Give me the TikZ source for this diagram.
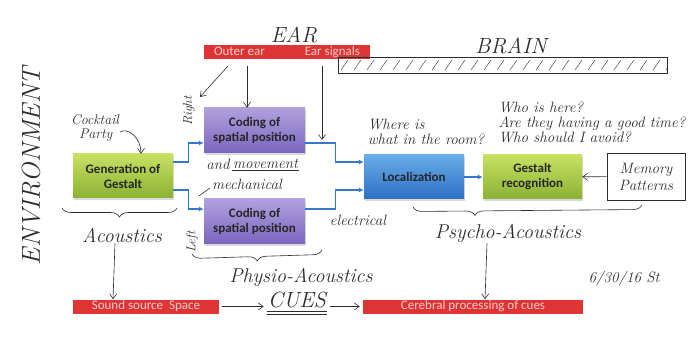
\documentclass[tikz,border=0pt]{standalone}
\usepackage{fontspec}
\newfontfamily\calibri{Carlito}
\usetikzlibrary{arrows.meta,decorations.pathreplacing,shadows,positioning}
\definecolor{rouge}{RGB}{222,52,52}
\definecolor{rose}{RGB}{250,205,205}
\definecolor{bleu}{RGB}{52,120,205}
\definecolor{vhaut}{RGB}{200,224,98}
\definecolor{vbas}{RGB}{138,178,52}
\definecolor{phaut}{RGB}{176,160,222}
\definecolor{pbas}{RGB}{122,102,190}
\definecolor{bhaut}{RGB}{104,172,232}
\definecolor{bbas}{RGB}{44,112,196}
\definecolor{mine}{RGB}{45,45,45}

\begin{document}
\begin{tikzpicture}[x=1pt,y=-1pt,line width=.45pt,
  boite/.style={rectangle,minimum width=100pt,minimum height=44pt,align=center,
    inner sep=2pt,font=\calibri\bfseries\fontsize{13}{15}\selectfont,text=black!85,
    drop shadow={opacity=.3,shadow xshift=1.2pt,shadow yshift=-1.6pt}},
  vert/.style={boite,top color=vhaut,bottom color=vbas},
  codage/.style={boite,top color=phaut,bottom color=pbas,minimum width=101pt,minimum height=45pt},
  azur/.style={boite,top color=bhaut,bottom color=bbas},
  barre/.style={rectangle,fill=rouge,text=rose,minimum height=14pt,inner sep=0pt,
    font=\calibri\fontsize{13}{13}\selectfont},
  main/.style={text=mine,inner sep=1pt,font=\itshape\fontsize{15}{15}\selectfont},
  grand/.style={main,font=\itshape\fontsize{20}{20}\selectfont},
  crayon/.style={draw=mine,line width=.6pt},
  fleche/.style={crayon,-{Straight Barb[length=5pt,width=7pt]}},
  lien/.style={draw=bleu,line width=1.4pt,-{Latex[length=5pt,width=5pt]}},
  accolade/.style={crayon,decorate,decoration={brace,mirror,amplitude=9pt}}]
\useasboundingbox (0,0) rectangle (700,344);

% Les titres des trois domaines.
\node[main,font=\itshape\fontsize{22}{22}\selectfont] (ear) at (294,35) {EAR};
\node[main,font=\itshape\fontsize{22}{22}\selectfont] (brain) at (511,46) {BRAIN};
\node[main,font=\itshape\fontsize{26}{26}\selectfont,rotate=90] (env) at (31,166) {ENVIRONMENT};

% La barre de l'oreille et la barre hachuree du cerveau.
\node[barre,minimum width=166pt] (oreille) at (287,52) {Outer ear\hspace{40pt}Ear signals};
\draw[crayon] (338,57) rectangle (667,73);
\begin{scope}
  \clip (338,57) rectangle (667,73);
  \foreach \x in {341,354,...,670}
    \draw[crayon,line width=.4pt] (\x,70) -- (\x+7,60);
\end{scope}

% Les blocs du traitement.
\node[vert] (gen) at (123,176) {Generation of\\Gestalt};
\node[codage] (codeR) at (254.5,130.5) {Coding of\\spatial position};
\node[codage] (codeL) at (254.5,221.5) {Coding of\\spatial position};
\node[azur] (loc) at (414,177) {Localization};
\node[vert,minimum width=99pt] (gest) at (532.5,177) {Gestalt\\recognition};
\node[main,crayon,minimum width=78pt,minimum height=47pt,align=center,
      font=\itshape\fontsize{15}{17}\selectfont] (memoire) at (646,176.5) {Memory\\Patterns};

% Les liaisons bleues.
\draw[lien] ([yshift=14pt]gen.east) -- ++(15,0) |- ([yshift=-12.5pt]codeR.west);
\draw[lien] ([yshift=-14pt]gen.east) -- ++(15,0) |- ([yshift=12.5pt]codeL.west);
\draw[lien] ([yshift=-12.5pt]codeR.east) -- ++(30,0) |- ([yshift=15pt]loc.west);
\draw[lien] ([yshift=12.5pt]codeL.east) -- ++(30,0) |- ([yshift=-13pt]loc.west);
\draw[lien] (loc) -- (gest);

% Les fleches qui descendent de l'oreille.
\coordinate (oe1) at (228,66);
\coordinate (oe2) at (247,66);
\coordinate (es) at (322,66);
\draw[fleche] (oe1) -- (200,97);
\draw[fleche] (oe2) -- (oe2 |- codeR.north);
\draw[fleche] (es) -- (322,140);

% Les annotations a la main.
\node[main,align=left,font=\itshape\fontsize{14}{14}\selectfont] (cocktail) at (95,128) {Cocktail\\\hspace{8pt}Party};
\draw[fleche] ([yshift=-4pt]cocktail.east) .. controls +(8,-5) and +(0,-16) .. ([xshift=18pt]gen.north);
\node[main,rotate=90,font=\itshape\fontsize{13}{13}\selectfont] (droite) at (189,111) {Right};
\node[main,rotate=90,font=\itshape\fontsize{13}{13}\selectfont] (gauche) at (192,242) {Left};
\node[main] (and) at (218,164) {and};
\node[main,right=1pt of and] (mouvement) {movement};
\draw[crayon] (mouvement.south west) -- (mouvement.south east);
\node[main] (meca) at (247,184) {mechanical};
\draw[crayon] ([xshift=-1pt,yshift=-4pt]meca.west) -- ++(-11,8);
\node[main] (elec) at (358,220) {electrical};
\node[main,align=left] (ou) at (426,132) {Where is\\what in the room?};
\node[main,align=left] (qui) at (592,122) {Who is here?\\Are they having a good time?\\Who should I avoid?};
\draw[fleche] (memoire) -- (gest);

% Les accolades et les trois disciplines.
\draw[accolade] (62,208) -- (177,208);
\node[grand] (acou) at (122,235) {Acoustics};
\draw[accolade] (192,254) -- (322,250);
\node[grand] (physio) at (301,277) {Physio-Acoustics};
\draw[accolade,decoration={aspect=.27}] (413,207) -- (642,205);
\node[grand] (psycho) at (508,233) {Psycho-Acoustics};

% La ligne du bas : les indices.
\node[barre,minimum width=146pt] (son) at (146,306.5) {Sound source\hspace{6pt}Space};
\node[barre,minimum width=220pt] (cerveau) at (473,306.5) {Cerebral processing of cues};
\node[main,font=\itshape\fontsize{22}{22}\selectfont] (cues) at (297,300) {CUES};
\draw[crayon] ([yshift=-2pt]cues.south west) -- ([yshift=-2pt]cues.south east);
\draw[crayon] ([yshift=-5pt]cues.south west) -- ([yshift=-5pt]cues.south east);
\draw[fleche] ([xshift=-7pt]acou.south) -- ([xshift=-33pt]son.north);
\draw[fleche] ([xshift=-21pt]psycho.south) -- ([xshift=12pt]cerveau.north);
\draw[fleche,shorten <=3pt,shorten >=3pt] (son) -- (cues.west |- son);
\draw[fleche,shorten <=3pt,shorten >=3pt] (cues.east |- cerveau) -- (cerveau);
\node[main] (date) at (624,279) {6/30/16 St};
\end{tikzpicture}
\end{document}
